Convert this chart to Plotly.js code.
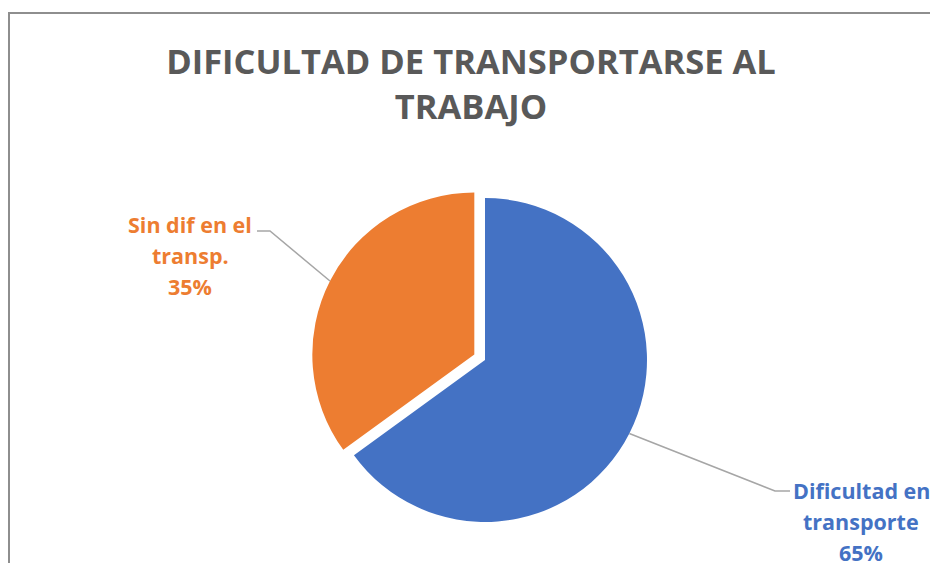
<!DOCTYPE html>
<html>
<head>
<meta charset="utf-8">
<script src="https://cdn.plot.ly/plotly-3.0.1.min.js"></script>
<style>
  html, body { margin: 0; padding: 0; background: #ffffff; }
  #wrap { position: relative; width: 930px; height: 563px; overflow: hidden; }
  #chart { position: absolute; left: 0; top: 0; width: 930px; height: 563px; }
  #frame { position: absolute; left: 8px; top: 12px; width: 940px; height: 600px;
           border-left: 2px solid #8e8e8e; border-top: 2px solid #8e8e8e; pointer-events: none; }
</style>
</head>
<body>
<div id="wrap">
  <div id="chart"></div>
  <div id="frame"></div>
</div>
<script>
// ---- data ----
const categories = ["Dificultad en transporte", "Sin dif en el transp."];
const labelLines = [["Dificultad en", "transporte"], ["Sin dif en el", "transp."]];
const values = [65, 35];
const percentLabels = ["65%", "35%"];
const colors = ["#4472C4", "#ED7D31"];
const pulls = [0, 0.074];
const titleText = "DIFICULTAD DE TRANSPORTARSE AL<br>TRABAJO";

// ---- layout constants (pixels) ----
const W = 930, H = 563;
const CX = 485, CY = 360, R = 162;
const boxHalf = R * (1 + Math.max(...pulls));
const labelFont = 21.5, labelLineGap = 31;
const labelPos = [ {x: 861, baseline: 498, elbow: [790, 775], lineY: 491},
                   {x: 190, baseline: 232, elbow: [257, 270], lineY: 231} ];

const px = x => x / W;
const py = y => 1 - y / H;

const font = {family: "Open Sans, Lato, sans-serif", weight: "bold"};

// compute leader-line anchors from the pie geometry
const total = values.reduce((a, b) => a + b, 0);
let start = 0;
const shapes = [], annotations = [];
values.forEach((v, i) => {
  const frac = v / total;
  const mid = (start + frac / 2) * 2 * Math.PI; // clockwise from 12 o'clock
  start += frac;
  const off = pulls[i] * R;
  const cx = CX + off * Math.sin(mid), cy = CY - off * Math.cos(mid);
  const ex = cx + R * Math.sin(mid), ey = cy - R * Math.cos(mid);
  const lp = labelPos[i];
  shapes.push({
    type: "path", xref: "paper", yref: "paper",
    path: `M ${px(lp.elbow[0])},${py(lp.lineY)} L ${px(lp.elbow[1])},${py(lp.lineY)} L ${px(ex)},${py(ey)}`,
    line: {color: "#a6a6a6", width: 1.5}
  });
  const lines = labelLines[i].concat([percentLabels[i]]);
  lines.forEach((t, k) => {
    const base = lp.baseline + k * labelLineGap;
    annotations.push({
      xref: "paper", yref: "paper", x: px(lp.x), y: py(base - 0.35 * labelFont),
      xanchor: "center", yanchor: "middle", showarrow: false, align: "center",
      text: t,
      font: Object.assign({}, font, {size: labelFont, color: colors[i]})
    });
  });
});

const trace = {
  type: "pie",
  labels: categories,
  values: values,
  sort: false,
  direction: "clockwise",
  rotation: 0,
  pull: pulls,
  marker: {colors: colors, line: {width: 0}},
  textinfo: "none",
  hoverinfo: "label+percent",
  showlegend: false,
  domain: {
    x: [px(CX - boxHalf), px(CX + boxHalf)],
    y: [py(CY + boxHalf), py(CY - boxHalf)]
  }
};

const layout = {
  width: W, height: H,
  margin: {l: 0, r: 0, t: 0, b: 0},
  paper_bgcolor: "#ffffff",
  plot_bgcolor: "#ffffff",
  showlegend: false,
  title: {
    text: titleText,
    x: 471 / W, xanchor: "center", xref: "container",
    y: 1 - 74 / H, yanchor: "top", yref: "container",
    font: Object.assign({}, font, {size: 34.5, color: "#595959"})
  },
  shapes: shapes,
  annotations: annotations
};

Plotly.newPlot("chart", [trace], layout, {displayModeBar: false, staticPlot: true});
</script>
</body>
</html>
